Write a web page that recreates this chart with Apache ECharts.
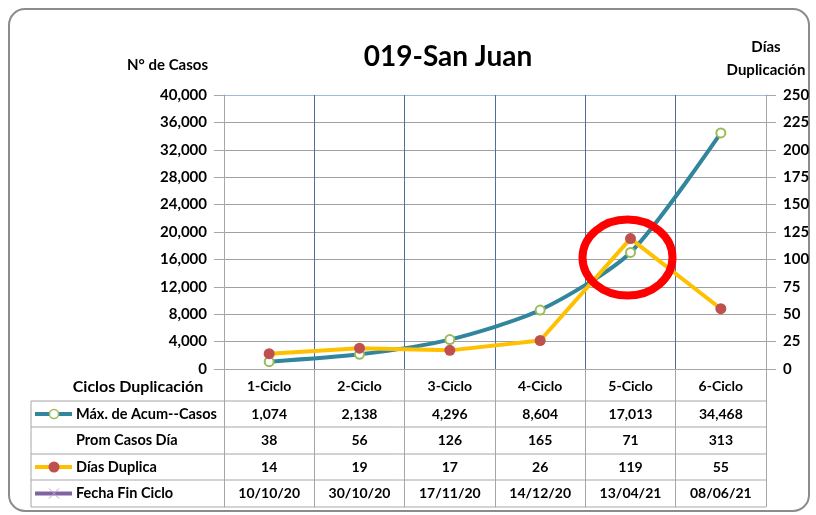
<!DOCTYPE html>
<html>
<head>
<meta charset="utf-8">
<script src="https://cdn.jsdelivr.net/npm/echarts@6/dist/echarts.min.js"></script>
<style>
  html, body { margin: 0; padding: 0; background: #fff; }
  #chart { width: 816px; height: 515px; }
</style>
</head>
<body>
<div id="chart"></div>
<script>
  // datos del gráfico
  var ciclos = ["1-Ciclo", "2-Ciclo", "3-Ciclo", "4-Ciclo", "5-Ciclo", "6-Ciclo"];
  var maxCasos = [1074, 2138, 4296, 8604, 17013, 34468];
  var promCasos = [38, 56, 126, 165, 71, 313];
  var diasDuplica = [14, 19, 17, 26, 119, 55];
  var fechaFin = ["10/10/20", "30/10/20", "17/11/20", "14/12/20", "13/04/21", "08/06/21"];

  var FONT = "Lato";
  var GRAY = "#a6a6a6";

  function fmt(v) {
    return String(v).replace(/\B(?=(\d{3})+(?!\d))/g, ",");
  }

  // filas de la tabla como ejes extra
  function rowAxis(data, offset) {
    return {
      type: "category",
      data: data,
      position: "bottom",
      offset: offset,
      axisLine: { show: false },
      axisTick: { show: false },
      splitLine: { show: false },
      axisLabel: {
        interval: 0,
        margin: 0,
        verticalAlign: "middle",
        color: "#000",
        fontFamily: FONT,
        fontWeight: "bold",
        fontSize: 14
      }
    };
  }

  var chart = echarts.init(document.getElementById("chart"));

  var gridColors = [];
  for (var i = 0; i < 10; i++) gridColors.push("#a0a0a0");
  gridColors.push("#9dbbe0");

  var option = {
    animation: false,
    backgroundColor: "#fff",
    title: {
      text: "019-San Juan",
      left: 443,
      top: 38,
      textAlign: "center",
      textStyle: { fontFamily: FONT, fontWeight: "bold", fontSize: 28, color: "#000" }
    },
    grid: { left: 224, right: 50, top: 95, bottom: 146 },
    xAxis: [
      {
        type: "category",
        data: ciclos,
        boundaryGap: true,
        axisLine: { show: true, lineStyle: { color: GRAY } },
        axisTick: { show: true, length: 138, lineStyle: { color: GRAY } },
        splitLine: {
          show: true,
          showMinLine: false,
          showMaxLine: false,
          lineStyle: { color: "#4f6d9f", width: 1 }
        },
        axisLabel: {
          interval: 0,
          margin: 17,
          verticalAlign: "middle",
          color: "#000",
          fontFamily: FONT,
          fontWeight: "bold",
          fontSize: 14
        }
      },
      rowAxis(maxCasos.map(fmt), 45),
      rowAxis(promCasos.map(String), 71.5),
      rowAxis(diasDuplica.map(String), 98),
      rowAxis(fechaFin, 124.5)
    ],
    yAxis: [
      {
        type: "value",
        min: 0,
        max: 40000,
        interval: 4000,
        position: "left",
        name: "N° de Casos",
        nameLocation: "end",
        nameGap: 30,
        nameTextStyle: {
          align: "right",
          verticalAlign: "middle",
          padding: [0, 16, 0, 0],
          color: "#000",
          fontFamily: FONT,
          fontWeight: "bold",
          fontSize: 15
        },
        axisLine: { show: true, lineStyle: { color: GRAY } },
        axisTick: { show: true, length: 10, lineStyle: { color: GRAY } },
        splitLine: { show: true, lineStyle: { color: gridColors } },
        axisLabel: {
          margin: 17,
          formatter: function (v) { return fmt(v); },
          color: "#000",
          fontFamily: FONT,
          fontWeight: "bold",
          fontSize: 15
        }
      },
      {
        type: "value",
        min: 0,
        max: 250,
        interval: 25,
        position: "right",
        name: "Días\nDuplicación",
        nameLocation: "end",
        nameGap: 36,
        nameTextStyle: {
          align: "center",
          verticalAlign: "middle",
          lineHeight: 23,
          color: "#000",
          fontFamily: FONT,
          fontWeight: "bold",
          fontSize: 15
        },
        axisLine: { show: true, lineStyle: { color: GRAY } },
        axisTick: { show: true, length: 10, lineStyle: { color: GRAY } },
        splitLine: { show: false },
        axisLabel: {
          margin: 17,
          color: "#000",
          fontFamily: FONT,
          fontWeight: "bold",
          fontSize: 15
        }
      }
    ],
    series: [
      {
        name: "Máx. de Acum--Casos",
        type: "line",
        data: maxCasos,
        yAxisIndex: 0,
        smooth: 0.25,
        symbol: "circle",
        symbolSize: 9,
        lineStyle: { color: "#31859c", width: 4 },
        itemStyle: { color: "#fff", borderColor: "#9bbb59", borderWidth: 2 },
        z: 2
      },
      {
        name: "Días Duplica",
        type: "line",
        data: diasDuplica,
        yAxisIndex: 1,
        symbol: "circle",
        symbolSize: 11,
        lineStyle: { color: "#ffc000", width: 4 },
        itemStyle: { color: "#c0504d" },
        z: 3
      }
    ]
  };

  chart.setOption(option);

  // marco, bordes de tabla, leyendas y círculo rojo
  var rows = [401, 427, 454, 480, 507];
  var x0 = 31, xEnd = 766;
  var g = [];
  g.push({
    type: "rect",
    shape: { x: 9, y: 9, width: 800, height: 502, r: 16 },
    style: { fill: null, stroke: "#8c8c8c", lineWidth: 2 },
    z: 0
  });
  rows.forEach(function (y) {
    g.push({ type: "line", shape: { x1: x0, y1: y, x2: xEnd, y2: y }, style: { stroke: GRAY, lineWidth: 1 } });
  });
  g.push({ type: "line", shape: { x1: x0, y1: rows[0], x2: x0, y2: rows[4] }, style: { stroke: GRAY, lineWidth: 1 } });

  var txt = { fill: "#000", font: "bold 14.5px " + FONT, textVerticalAlign: "middle" };
  g.push({ type: "text", x: 138, y: 387, style: { text: "Ciclos Duplicación", fill: "#000", font: "bold 16px " + FONT, textAlign: "center", textVerticalAlign: "middle" } });

  var labels = [
    { text: "Máx. de Acum--Casos", line: "#31859c", mark: "open" },
    { text: "Prom Casos Día", line: null },
    { text: "Días Duplica", line: "#ffc000", mark: "dot" },
    { text: "Fecha Fin Ciclo", line: "#8064a2", mark: "x" }
  ];
  labels.forEach(function (l, i) {
    var cy = (rows[i] + rows[i + 1]) / 2;
    g.push({ type: "text", x: 76, y: cy, style: Object.assign({ text: l.text }, txt) });
    if (!l.line) return;
    g.push({ type: "line", shape: { x1: 35, y1: cy, x2: 72, y2: cy }, style: { stroke: l.line, lineWidth: 4 } });
    if (l.mark === "open") {
      g.push({ type: "circle", shape: { cx: 54, cy: cy, r: 4.5 }, style: { fill: "#fff", stroke: "#9bbb59", lineWidth: 1.5 } });
    } else if (l.mark === "dot") {
      g.push({ type: "circle", shape: { cx: 54, cy: cy, r: 5.5 }, style: { fill: "#c0504d" } });
    } else {
      g.push({ type: "line", shape: { x1: 49, y1: cy - 5, x2: 59, y2: cy + 5 }, style: { stroke: "#b3a2c7", lineWidth: 1 } });
      g.push({ type: "line", shape: { x1: 49, y1: cy + 5, x2: 59, y2: cy - 5 }, style: { stroke: "#b3a2c7", lineWidth: 1 } });
    }
  });

  var p = chart.convertToPixel({ xAxisIndex: 0, yAxisIndex: 1 }, [4, diasDuplica[4]]);
  g.push({
    type: "ellipse",
    shape: { cx: p[0] - 3, cy: p[1] + 19, rx: 45, ry: 38 },
    style: { fill: null, stroke: "#ff0000", lineWidth: 8 },
    z: 10
  });

  chart.setOption({ graphic: g });

  window.addEventListener("resize", function () { chart.resize(); });
</script>
</body>
</html>
